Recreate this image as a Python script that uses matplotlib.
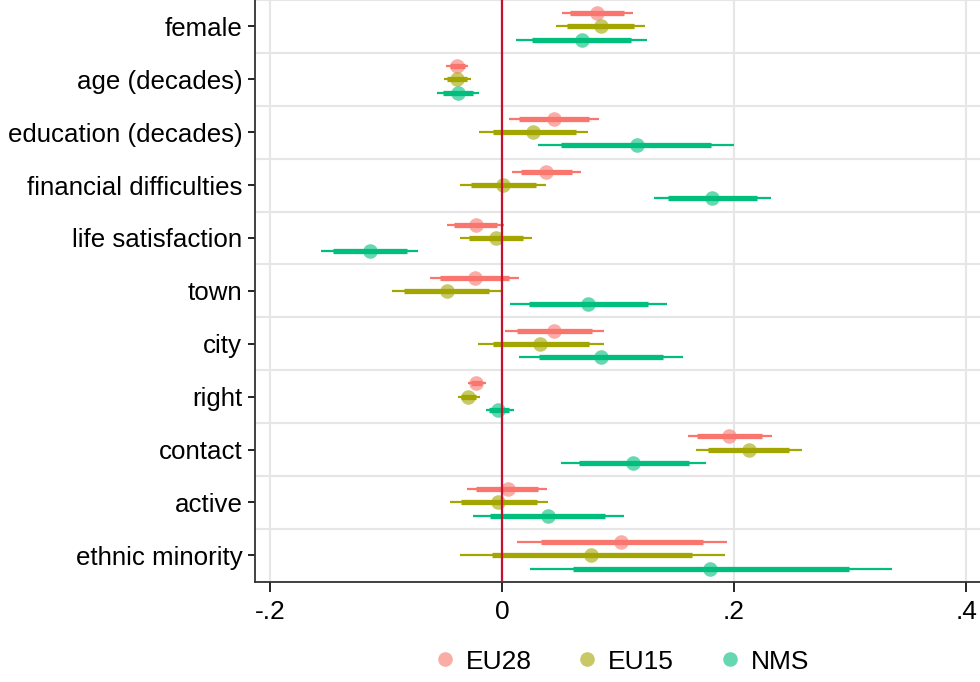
import numpy as np
import matplotlib
matplotlib.use("Agg")
import matplotlib.pyplot as plt

plt.rcParams["font.family"] = ["Liberation Sans", "DejaVu Sans"]

variables = ["female", "age (decades)", "education (decades)", "financial difficulties",
             "life satisfaction", "town", "city", "right", "contact", "active",
             "ethnic minority"]
groups = ["EU28", "EU15", "NMS"]
colors = ["#F8766D", "#A3A500", "#00BF7D"]

# point estimates
eu28_coef = [0.082, -0.0385, 0.045, 0.038, -0.022, -0.023, 0.045, -0.022, 0.196, 0.005, 0.103]
eu15_coef = [0.085, -0.0385, 0.027, 0.001, -0.005, -0.047, 0.033, -0.029, 0.213, -0.003, 0.077]
nms_coef = [0.069, -0.038, 0.116, 0.181, -0.114, 0.074, 0.085, -0.003, 0.113, 0.040, 0.179]

# inner (thick) intervals
eu28_lo_in = [0.059, -0.045, 0.015, 0.016, -0.041, -0.053, 0.013, -0.027, 0.168, -0.022, 0.034]
eu28_hi_in = [0.105, -0.032, 0.075, 0.060, -0.004, 0.006, 0.078, -0.017, 0.224, 0.031, 0.173]
eu15_lo_in = [0.056, -0.047, -0.008, -0.027, -0.028, -0.084, -0.008, -0.035, 0.178, -0.035, -0.009]
eu15_hi_in = [0.114, -0.030, 0.064, 0.029, 0.018, -0.011, 0.075, -0.022, 0.247, 0.030, 0.164]
nms_lo_in = [0.026, -0.051, 0.051, 0.143, -0.146, 0.023, 0.032, -0.011, 0.066, -0.010, 0.061]
nms_hi_in = [0.111, -0.025, 0.180, 0.220, -0.082, 0.126, 0.139, 0.006, 0.161, 0.089, 0.299]

# outer (thin) intervals
eu28_lo_out = [0.052, -0.048, 0.006, 0.009, -0.047, -0.062, 0.003, -0.029, 0.160, -0.030, 0.013]
eu28_hi_out = [0.113, -0.029, 0.084, 0.068, 0.002, 0.015, 0.088, -0.014, 0.233, 0.039, 0.194]
eu15_lo_out = [0.047, -0.050, -0.020, -0.036, -0.036, -0.095, -0.021, -0.038, 0.167, -0.045, -0.036]
eu15_hi_out = [0.123, -0.027, 0.074, 0.038, 0.026, 0.001, 0.088, -0.019, 0.259, 0.040, 0.192]
nms_lo_out = [0.012, -0.056, 0.031, 0.131, -0.156, 0.007, 0.015, -0.014, 0.051, -0.025, 0.024]
nms_hi_out = [0.125, -0.020, 0.200, 0.232, -0.072, 0.142, 0.156, 0.010, 0.176, 0.105, 0.336]

coefs = [eu28_coef, eu15_coef, nms_coef]
lo_in = [eu28_lo_in, eu15_lo_in, nms_lo_in]
hi_in = [eu28_hi_in, eu15_hi_in, nms_hi_in]
lo_out = [eu28_lo_out, eu15_lo_out, nms_lo_out]
hi_out = [eu28_hi_out, eu15_hi_out, nms_hi_out]

xticks = [-0.2, 0, 0.2, 0.4]
xticklabels = ["-.2", "0", ".2", ".4"]

fig = plt.figure(figsize=(9.8, 6.82), dpi=100)
ax = fig.add_axes([0.260, 0.147, 0.740, 0.853])

y = np.arange(len(variables))
offsets = [-0.25, 0, 0.25]

# grid
for b in np.arange(-0.5, len(variables) + 0.5, 1):
    ax.axhline(b, color="#e6e6e6", lw=1.5, zorder=0)
for xv in xticks:
    ax.axvline(xv, color="#e6e6e6", lw=1.5, zorder=0)

for i, g in enumerate(groups):
    yy = y + offsets[i]
    ax.hlines(yy, lo_out[i], hi_out[i], color=colors[i], lw=1.6, zorder=2)
    ax.hlines(yy, lo_in[i], hi_in[i], color=colors[i], lw=3.8, zorder=2)
    ax.plot(coefs[i], yy, "o", ms=10.5, color=colors[i], alpha=0.6,
            markeredgewidth=0, zorder=3, label=g)

ax.axvline(0, color="#c8102e", lw=1.6, zorder=4)

ax.set_xlim(-0.213, 0.412)
ax.set_ylim(len(variables) - 0.5, -0.5)
ax.set_yticks(y)
ax.set_yticklabels(variables)
ax.set_xticks(xticks)
ax.set_xticklabels(xticklabels)
ax.tick_params(axis="y", length=5, width=1.2, labelsize=18.6, pad=4)
ax.tick_params(axis="x", length=7, width=1.2, labelsize=19, pad=6)

for s in ["top", "right"]:
    ax.spines[s].set_visible(False)
for s in ["left", "bottom"]:
    ax.spines[s].set_linewidth(1.3)
    ax.spines[s].set_color("#333333")

handles = [plt.Line2D([], [], marker="o", ls="", ms=10.5, color=c, alpha=0.6,
                      markeredgewidth=0) for c in colors]
fig.legend(handles, groups, loc="center", bbox_to_anchor=(0.633, 0.03), ncol=3,
           frameon=False, fontsize=19, handletextpad=0.3, columnspacing=1.6,
           handlelength=1.0)

fig.savefig("out.png", dpi=100)
